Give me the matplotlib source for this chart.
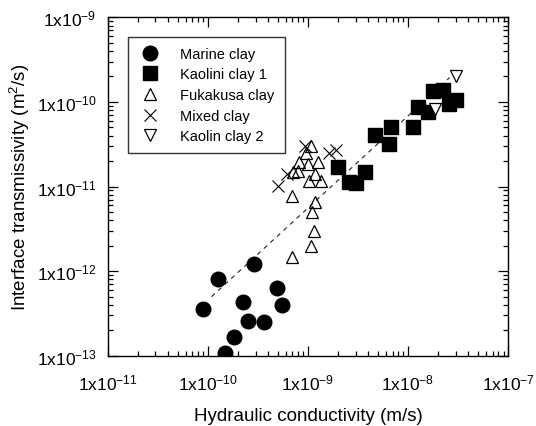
import numpy as np
import matplotlib.pyplot as plt
from matplotlib.ticker import LogLocator, FixedLocator, NullFormatter

plt.rcParams['font.family'] = ['Liberation Sans', 'DejaVu Sans']
plt.rcParams['mathtext.default'] = 'regular'

# Hydraulic conductivity k (m/s) and interface transmissivity T (m2/s)
marine_k = [9.0e-11, 1.25e-10, 2.9e-10, 2.23e-10, 4.9e-10, 5.5e-10, 2.52e-10, 3.64e-10, 1.81e-10, 1.5e-10]
marine_t = [3.56e-13, 8.05e-13, 1.21e-12, 4.27e-13, 6.25e-13, 3.97e-13, 2.6e-13, 2.52e-13, 1.65e-13, 1.09e-13]

kaolin1_k = [1.98e-9, 2.55e-9, 2.99e-9, 3.7e-9, 4.64e-9, 6.75e-9, 6.44e-9, 1.11e-8,
             1.25e-8, 1.57e-8, 1.76e-8, 2.21e-8, 2.54e-8, 3.0e-8]
kaolin1_t = [1.69e-11, 1.12e-11, 1.09e-11, 1.47e-11, 4.06e-11, 5.0e-11, 3.18e-11, 5.0e-11,
             8.8e-11, 7.53e-11, 1.36e-10, 1.40e-10, 9.44e-11, 1.05e-10]

fukakusa_k = [6.98e-10, 6.98e-10, 1.08e-9, 1.15e-9, 1.10e-9, 1.17e-9, 1.08e-9, 9.55e-10,
              8.07e-10, 7.15e-10, 1.0e-9, 1.27e-9, 1.02e-9, 1.17e-9, 1.36e-9, 8.0e-10]
fukakusa_t = [7.8e-12, 1.48e-12, 2.0e-12, 2.95e-12, 5.05e-12, 6.5e-12, 3.04e-11, 2.49e-11,
              1.97e-11, 1.47e-11, 1.84e-11, 1.97e-11, 1.17e-11, 1.41e-11, 1.17e-11, 1.54e-11]

mixed_k = [5.06e-10, 6.12e-10, 9.33e-10, 1.63e-9, 1.9e-9]
mixed_t = [1.02e-11, 1.41e-11, 3.04e-11, 2.49e-11, 2.72e-11]

kaolin2_k = [3.0e-8, 1.85e-8]
kaolin2_t = [2.04e-10, 8.24e-11]

# regression line: log T = slope * log k + intercept
fit_slope = 1.089
fit_intercept = -1.453
fit_range = [1.09e-10, 2.6e-8]

fig = plt.figure(figsize=(5.36, 4.27), dpi=100)
ax = fig.add_axes([0.201, 0.1646, 0.747, 0.7925])

kf = np.array(fit_range)
ax.plot(kf, 10 ** (fit_slope * np.log10(kf) + fit_intercept), ls=(0, (4, 4)),
        color='#222222', lw=0.8, zorder=1)

ax.plot(marine_k, marine_t, 'o', ms=10.5, color='black', label='Marine clay', zorder=3)
ax.plot(kaolin1_k, kaolin1_t, 's', ms=9.5, color='black', label='Kaolini clay 1', zorder=3)
ax.plot(fukakusa_k, fukakusa_t, '^', ms=8.5, mfc='none', mec='black', mew=0.9, label='Fukakusa clay', zorder=4)
ax.plot(mixed_k, mixed_t, 'x', ms=8.5, color='black', mew=0.8, label='Mixed clay', zorder=4)
ax.plot(kaolin2_k, kaolin2_t, 'v', ms=8.5, mfc='white', mec='black', mew=0.9, label='Kaolin clay 2', zorder=5)

ax.set_xscale('log')
ax.set_yscale('log')
ax.set_xlim(1e-11, 1e-7)
ax.set_ylim(1e-13, 1e-9)

xt = [1e-11, 1e-10, 1e-9, 1e-8, 1e-7]
yt = [1e-13, 1e-12, 1e-11, 1e-10, 1e-9]
ax.xaxis.set_major_locator(FixedLocator(xt))
ax.yaxis.set_major_locator(FixedLocator(yt))
ax.set_xticklabels(['1x10$^{%d}$' % int(np.log10(v)) for v in xt])
ax.set_yticklabels(['1x10$^{%d}$' % int(np.log10(v)) for v in yt])
ax.xaxis.set_minor_locator(LogLocator(base=10, subs=np.arange(2, 10), numticks=20))
ax.yaxis.set_minor_locator(LogLocator(base=10, subs=np.arange(2, 10), numticks=20))
ax.xaxis.set_minor_formatter(NullFormatter())
ax.yaxis.set_minor_formatter(NullFormatter())

ax.tick_params(which='both', direction='in', top=True, right=True, labelsize=12.5, width=0.9)
ax.tick_params(which='major', length=7)
ax.tick_params(which='minor', length=3.5)
ax.tick_params(axis='x', which='major', pad=12)
ax.tick_params(axis='y', which='major', pad=8)
for s in ax.spines.values():
    s.set_linewidth(1.0)

ax.set_xlabel('Hydraulic conductivity (m/s)', fontsize=13.5, labelpad=10.5)
ax.set_ylabel('Interface transmissivity (m$^2$/s)', fontsize=13.5, labelpad=3)

leg = ax.legend(loc='upper left', bbox_to_anchor=(0.0514, 0.9427), borderaxespad=0,
                fontsize=10.5, frameon=True, fancybox=False, edgecolor='black',
                handlelength=1.6, handletextpad=1.25, labelspacing=0.45, borderpad=0.7)
leg.get_frame().set_linewidth(1.0)

fig.savefig('out.png', dpi=100)
